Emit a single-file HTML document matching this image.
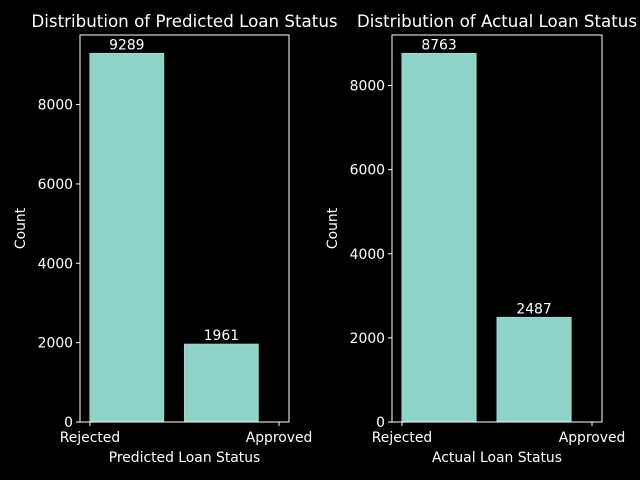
<!DOCTYPE html>
<html><head><meta charset="utf-8"><style>
html,body{margin:0;padding:0;background:#000;}
svg{display:block;font-family:"DejaVu Sans","Liberation Sans",sans-serif;}
</style></head><body>
<svg id="chart" width="640" height="480" viewBox="0 0 640 480">
<rect width="640" height="480" fill="#000"/>
</svg>
<script>
const categories = ["Rejected", "Approved"];
const predictedCounts = [9289, 1961];
const actualCounts = [8763, 2487];
const predictedTicks = [0, 2000, 4000, 6000, 8000];
const actualTicks = [0, 2000, 4000, 6000, 8000];
const titles = ["Distribution of Predicted Loan Status", "Distribution of Actual Loan Status"];
const xTitles = ["Predicted Loan Status", "Actual Loan Status"];

const NS = "http://www.w3.org/2000/svg";
const svg = document.getElementById('chart');
function mk(tag, attrs, parent) {
  const e = document.createElementNS(NS, tag);
  for (const k in attrs) e.setAttribute(k, attrs[k]);
  (parent || svg).appendChild(e);
  return e;
}
function panel(idx, left, right, top, bottom, counts, ticks) {
  const g = mk('g', {});
  
  
  const ymax = Math.max(...counts) * 1.05;
  const y = v => bottom - v / ymax * (bottom - top);
  const xmin = -0.0526, xmax = 1.0526;
  const x = v => left + (v - xmin) / (xmax - xmin) * (right - left);
  counts.forEach((c, i) => {
    const x0 = x(i * 0.5), x1 = x(i * 0.5 + 0.39);
    const r = mk('rect', {x: x0, y: y(c), width: x1 - x0, height: bottom - y(c), fill: '#8dd3c7', stroke: '#a0d8cf', 'stroke-width': 1}, g);
    
    
    const t = mk('text', {x: (x0 + x1) / 2, y: y(c) - 4, 'text-anchor': 'middle', 'font-size': 13.9, fill: '#fff'}, g);
    t.textContent = c;
    
    
  });
  const frame = mk('rect', {x: left, y: top, width: right - left, height: bottom - top, fill: 'none', stroke: '#fff', 'stroke-width': 1}, g);
  
  
  ticks.forEach(tv => {
    const yy = y(tv);
    mk('line', {x1: left - 4, x2: left, y1: yy, y2: yy, stroke: '#fff'}, g);
    const t = mk('text', {x: left - 7, y: yy + 5, 'text-anchor': 'end', 'font-size': 13.9, fill: '#fff'}, g);
    t.textContent = tv;
    
    
  });
  categories.forEach((c, i) => {
    const xx = x(i);
    mk('line', {x1: xx, x2: xx, y1: bottom, y2: bottom + 4, stroke: '#fff'}, g);
    const t = mk('text', {x: xx, y: bottom + 20, 'text-anchor': 'middle', 'font-size': 13.9, fill: '#fff'}, g);
    t.textContent = c;
    
    
  });
  const tt = mk('text', {x: (left + right) / 2, y: top - 8, 'text-anchor': 'middle', 'font-size': 16.7, fill: '#fff'}, g);
  tt.textContent = titles[idx];
  
  
  const xt = mk('text', {x: (left + right) / 2, y: bottom + 40, 'text-anchor': 'middle', 'font-size': 13.9, fill: '#fff'}, g);
  xt.textContent = xTitles[idx];
  
  
  const yt = mk('text', {x: 0, y: 0, 'text-anchor': 'middle', 'font-size': 13.9, fill: '#fff', transform: `translate(${left - 55},${(top + bottom) / 2}) rotate(-90)`}, g);
  yt.textContent = 'Count';
  
  
}
panel(0, 80, 289, 35, 422, predictedCounts, predictedTicks);
panel(1, 392, 602, 35, 422, actualCounts, actualTicks);
</script>
</body></html>
